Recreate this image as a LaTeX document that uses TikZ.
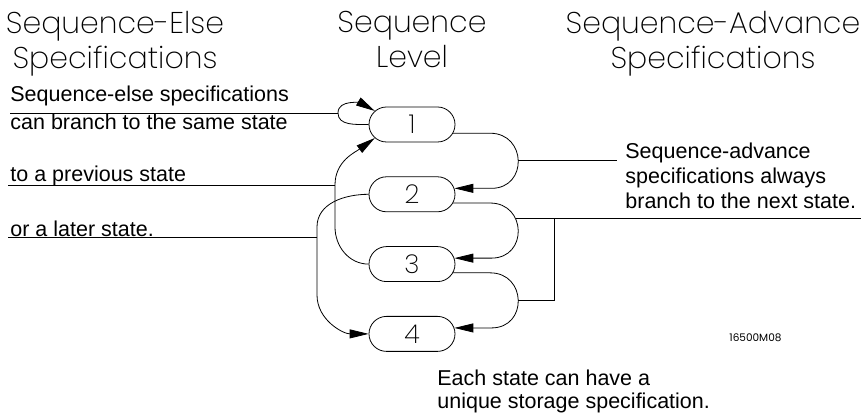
\documentclass[tikz,border=0pt]{standalone}
\usepackage{fontspec}
\setmainfont{Liberation Sans}
\newfontfamily\headfont{Poppins ExtraLight}
\newfontfamily\tagfont{Poppins}
\usetikzlibrary{positioning,arrows.meta,shapes.misc,calc}

\begin{document}
\begin{tikzpicture}[
  x=1pt, y=1pt,
  line width=0.8pt,
  statebox/.style={draw, rounded rectangle, minimum width=86pt, minimum height=35pt, inner sep=0pt, font=\headfont\fontsize{26}{26}\selectfont},
  head/.style={align=center, anchor=north, inner sep=0pt, font=\headfont\fontsize{30}{35}\selectfont},
  note/.style={align=left, inner sep=0pt, font=\fontsize{21.5}{25}\selectfont},
  arrow/.style={-{Triangle[length=19pt, width=9pt]}}
]
\useasboundingbox (0,0) rectangle (868,417);

% column heads
\node[head] (elsehead) at (115,406) {Sequence-Else\\Specifications};
\node[head] (levelhead) at (412,406) {Sequence\\Level};
\node[head] (advhead) at (713,406) {Sequence-Advance\\Specifications};

% the four states
\node[statebox] (s1) at (412,292.5) {1};
\node[statebox, below=34pt of s1] (s2) {2};
\node[statebox, below=34pt of s2] (s3) {3};
\node[statebox, below=34pt of s3] (s4) {4};

% notes
\node[note, anchor=north west, font=\fontsize{21.5}{28}\selectfont] (elsenote) at (10,331.5) {Sequence-else specifications\\can branch to the same state};
\node[note, anchor=base west] (prevnote) at (10,235) {to a previous state};
\node[note, anchor=base west] (laternote) at (10,180) {or a later state.};
\node[note, anchor=north west] (advnote) at (625,274.5) {Sequence-advance\\specifications always\\branch to the next state.};
\node[note, anchor=north west, font=\fontsize{21.5}{23}\selectfont] (storenote) at (437,47.5) {Each state can have a\\unique storage specification.};
\node[anchor=base west, inner sep=0pt, font=\tagfont\fontsize{10.5}{12}\selectfont] (tag) at (729,75) {16500M08};

% sequence-else branches
\draw[arrow] (s1.west) to[out=180,in=270] (338,304) coordinate (loopL) to[out=90,in=150] (s1.160);
\draw (loopL) -- (loopL -| elsenote.west);
\draw[arrow] (s3.west) to[out=180,in=270] (335,190) -- (335,232) coordinate (prevL) to[out=90,in=216] (s1.200);
\draw (prevL) -- ([xshift=-2pt]prevL -| prevnote.west);
\draw[arrow] (s2.west) to[out=180,in=90] (317,190) -- coordinate[pos=0.16] (laterL) (317,122) to[out=270,in=180] (s4.west);
\draw (laterL) -- ([xshift=-2pt]laterL -| laternote.west);

% sequence-advance branches
\draw[arrow] (s1.-12) -- ++(37,0) to[out=0,in=0,looseness=1.7] coordinate[pos=0.5] (adv12) ($(s2.8)+(37,0)$) -- (s2.8);
\draw[arrow] (s2.-12) -- ++(37,0) to[out=0,in=0,looseness=1.7] coordinate[pos=0.35] (adv23) ($(s3.8)+(37,0)$) -- (s3.8);
\draw[arrow] (s3.-12) -- ++(37,0) to[out=0,in=0,looseness=1.7] coordinate[pos=0.5] (adv34) ($(s4.8)+(37,0)$) -- (s4.8);
\draw[shorten >=8pt] (adv12) -- (adv12 -| advnote.west);
\draw (adv23) -- ([xshift=5pt]adv23 -| advnote.east);
\draw (adv34) -- ++(36,0) |- (adv23);
\end{tikzpicture}
\end{document}
